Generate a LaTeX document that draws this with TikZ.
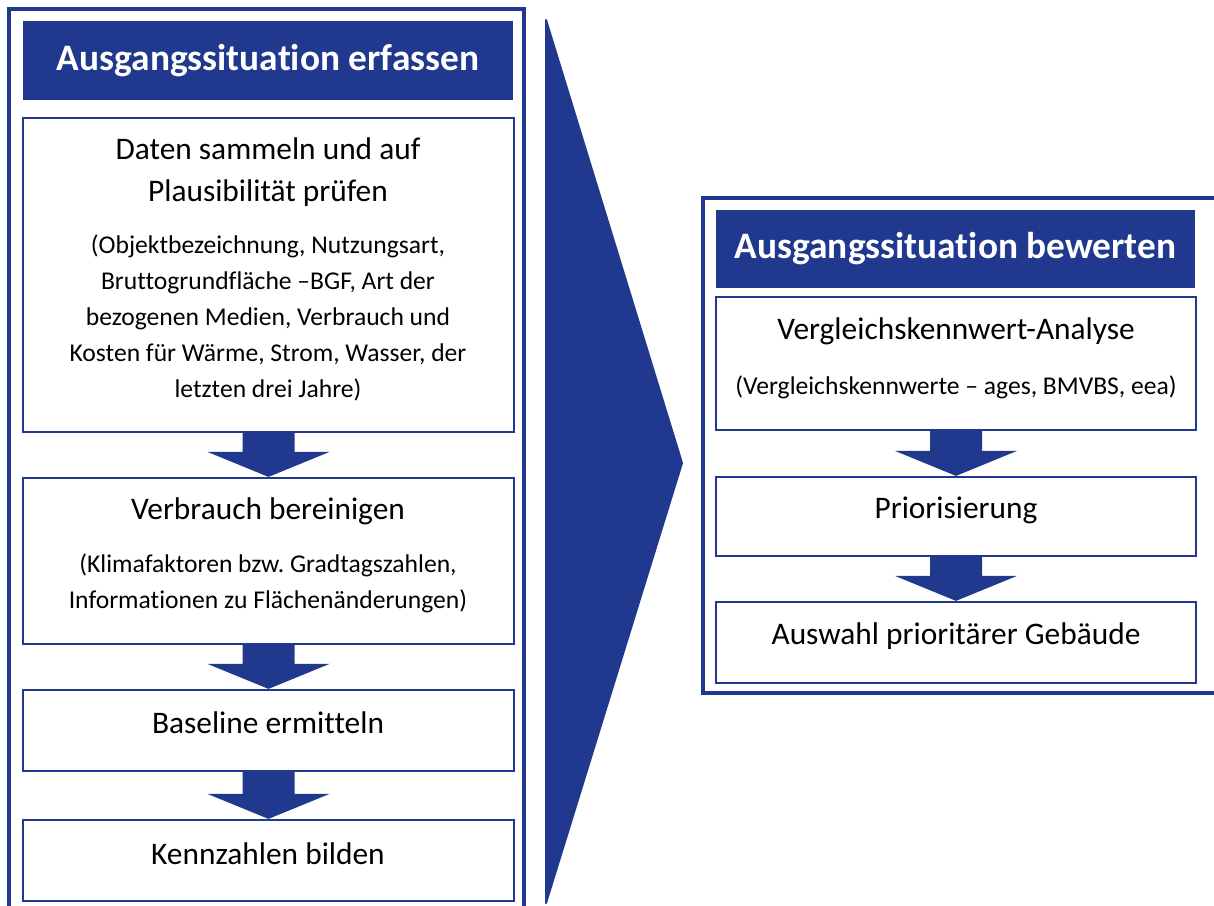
\documentclass[tikz,border=0pt]{standalone}
\usepackage{fontspec}
\setmainfont{Carlito}[Ligatures=NoCommon]
\usetikzlibrary{calc}
\frenchspacing
\definecolor{myblue}{RGB}{32,57,142}
\tikzset{
  outerframe/.style={draw=myblue, line width=3.5bp},
  stepbox/.style={draw=myblue, line width=2.2bp, fill=white, inner sep=0pt},
  titlebox/.style={fill=myblue, inner sep=0pt, text=white, font=\fontsize{37.5}{42}\selectfont\bfseries},
  maintext/.style={align=center, font=\fontsize{31.5}{42}\selectfont, inner sep=0pt},
  smalltext/.style={align=center, font=\fontsize{25.7}{36.2}\selectfont, inner sep=0pt},
}
\newcommand\blockarr[2]{%
  \fill[myblue] ($(#1.south)+(-26,0)$) -- ($(#1.south)+(26,0)$) -- ($(#2.north)+(26,-25)$) -- ($(#2.north)+(61,-25)$) -- (#2.north) -- ($(#2.north)+(-61,-25)$) -- ($(#2.north)+(-26,-25)$) -- cycle;}
\begin{document}
\begin{tikzpicture}[x=1bp,y=-1bp]
\useasboundingbox (0,0) rectangle (1214,906);
\clip (0,0) rectangle (1214,906);
\fill[white] (0,0) rectangle (1214,906);
% left panel
\draw[outerframe] (9,9) rectangle (524,920);
\node[titlebox, minimum width=490bp, minimum height=79bp] (lt) at (268,60.5) {Ausgangssituation erfassen};
\node[stepbox, minimum width=491bp, minimum height=314bp] (b1) at (268.5,275) {};
\node[stepbox, minimum width=491bp, minimum height=166bp] (b2) at (268.5,561) {};
\node[stepbox, minimum width=491bp, minimum height=81bp] (b3) at (268.5,730.5) {};
\node[stepbox, minimum width=491bp, minimum height=81bp] (b4) at (268.5,860.5) {};
\blockarr{b1}{b2}
\blockarr{b2}{b3}
\blockarr{b3}{b4}
\node[maintext] (t1) at (268,172) {Daten sammeln und auf\\Plausibilität prüfen};
\node[smalltext] (s1) at (268,318) {(Objektbezeichnung, Nutzungsart,\\Bruttogrundfläche –BGF, Art der\\bezogenen Medien, Verbrauch und\\Kosten für Wärme, Strom, Wasser, der\\letzten drei Jahre)};
\node[maintext] (t2) at (268,511) {Verbrauch bereinigen};
\node[smalltext] (s2) at (268,583) {(Klimafaktoren bzw. Gradtagszahlen,\\Informationen zu Flächenänderungen)};
\node[maintext] (t3) at (268,723) {Baseline ermitteln};
\node[maintext] (t4) at (268,854) {Kennzahlen bilden};
% chevron
\filldraw[myblue, line width=2bp, line join=round] (546,20) -- (682,463) -- (546,903) -- cycle;
% right panel
\draw[outerframe] (703,198) rectangle (1230,693);
\node[titlebox, minimum width=479bp, minimum height=78bp] (rt) at (955.5,249) {Ausgangssituation bewerten};
\node[stepbox, minimum width=480bp, minimum height=133bp] (r1) at (956,363.5) {};
\node[stepbox, minimum width=480bp, minimum height=79bp] (r2) at (956,516.5) {};
\node[stepbox, minimum width=480bp, minimum height=81bp] (r3) at (956,642.5) {};
\blockarr{r1}{r2}
\blockarr{r2}{r3}
\node[maintext] (u1) at (956,331) {Vergleichskennwert-Analyse};
\node[smalltext] (v1) at (956,387) {(Vergleichskennwerte – ages, BMVBS, eea)};
\node[maintext] (u2) at (956,510) {Priorisierung};
\node[maintext] (u3) at (956,636) {Auswahl prioritärer Gebäude};
\end{tikzpicture}
\end{document}
